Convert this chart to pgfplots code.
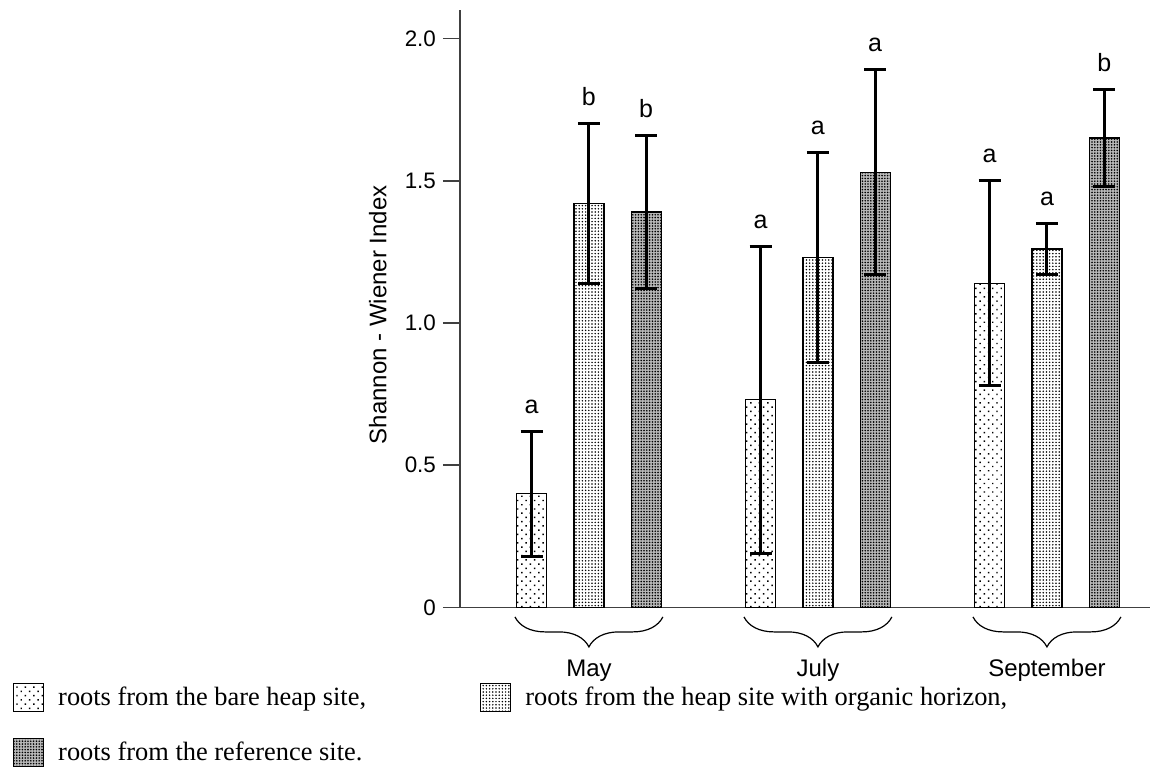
\documentclass[border=0pt]{standalone}
\usepackage{pgfplots}
\pgfplotsset{compat=1.18}
\usepackage{pgfplotstable}
\usepackage{fontspec}
\setmainfont{Liberation Serif}
\newfontfamily\sans{Liberation Sans}
\usetikzlibrary{patterns.meta,decorations.pathreplacing}

% x = month index (1 May, 2 July, 3 September) with offset per site
\pgfplotstableread{
x y e
0.75 0.40 0.22
1.75 0.73 0.54
2.75 1.14 0.36
}\bare
\pgfplotstableread{
x y e
1.00 1.42 0.28
2.00 1.23 0.37
3.00 1.26 0.09
}\organic
\pgfplotstableread{
x y e
1.25 1.39 0.27
2.25 1.53 0.36
3.25 1.65 0.17
}\reference

\begin{document}
\begin{tikzpicture}
\path[use as bounding box] (-230pt,-82.25pt) rectangle (358pt,303.75pt);
\begin{axis}[
  at={(0pt,0pt)}, anchor=south west,
  scale only axis, width=345pt, height=298.75pt,
  xmin=0.437, xmax=3.45, ymin=0, ymax=2.10,
  clip=false,
  axis lines*=left,
  axis line style={line width=0.9pt, black!75},
  xtick=\empty,
  ytick={0,0.5,1,1.5,2}, yticklabels={0,0.5,1.0,1.5,2.0},
  ytick style={line width=0.9pt, black!75},
  tick align=outside, major tick length=8.5pt,
  yticklabel style={font=\sans\fontsize{11.2}{13}\selectfont},
  ylabel={Shannon - Wiener Index},
  ylabel style={font=\sans\fontsize{12}{14}\selectfont, at={(axis description cs:-0.119,0.49)}, anchor=center},
  legend columns=2,
  legend cell align=left,
  legend style={at={(axis description cs:-0.6478,-0.1264)}, anchor=north west,
    draw=none, fill=none, inner sep=0pt, outer sep=0pt,
    font=\fontsize{13.2}{15}\selectfont, row sep=12.5pt,
    /tikz/every odd column/.append style={column sep=5pt},
    /tikz/every even column/.append style={column sep=55pt}},
  legend image code/.code={\draw[#1, draw=black, line width=0.6pt] (0pt,-7pt) rectangle (15pt,7pt);},
  every axis plot/.append style={ybar, bar width=15pt, bar shift=0pt, draw=black, line width=0.6pt,
    error bars/y dir=both, error bars/y explicit,
    error bars/error bar style={line width=1.5pt, black, solid},
    error bars/error mark options={rotate=90, mark size=5.5pt, line width=1.5pt, black}},
]
\addplot[pattern={Dots[distance=3pt, radius=0.5pt, angle=45]}] table[x=x, y=y, y error=e] {\bare};
\addlegendentry{roots from the bare heap site,}
\addplot[pattern={Dots[distance=1.6pt, radius=0.42pt]}] table[x=x, y=y, y error=e] {\organic};
\addlegendentry{roots from the heap site with organic horizon,}
\addplot[fill=gray!55, postaction={pattern={Dots[distance=1.4pt, radius=0.45pt]}}] table[x=x, y=y, y error=e] {\reference};
\addlegendentry{roots from the reference site.}

% significance letters
\foreach \px/\py/\lt in {0.75/0.62/a, 1.00/1.70/b, 1.25/1.66/b,
                          1.75/1.27/a, 2.00/1.60/a, 2.25/1.89/a,
                          2.75/1.50/a, 3.00/1.35/a, 3.25/1.82/b}{
  \edef\temp{\noexpand\node[font=\noexpand\sans\noexpand\fontsize{12.5}{14}\noexpand\selectfont, anchor=base, yshift=9pt] at (axis cs:\px,\py) {\lt};}
  \temp
}
% braces and month labels
\foreach \g/\name in {1/May, 2/July, 3/September}{
  \edef\temp{\noexpand\draw[line width=0.6pt, decorate, decoration={brace, mirror, amplitude=15pt}] (axis cs:\g-0.323,-0.033) -- (axis cs:\g+0.323,-0.033);
  \noexpand\node[font=\noexpand\sans\noexpand\fontsize{12}{14}\noexpand\selectfont, anchor=base] at (axis cs:\g,-0.2408) {\name};}
  \temp
}
\end{axis}
\end{tikzpicture}
\end{document}
